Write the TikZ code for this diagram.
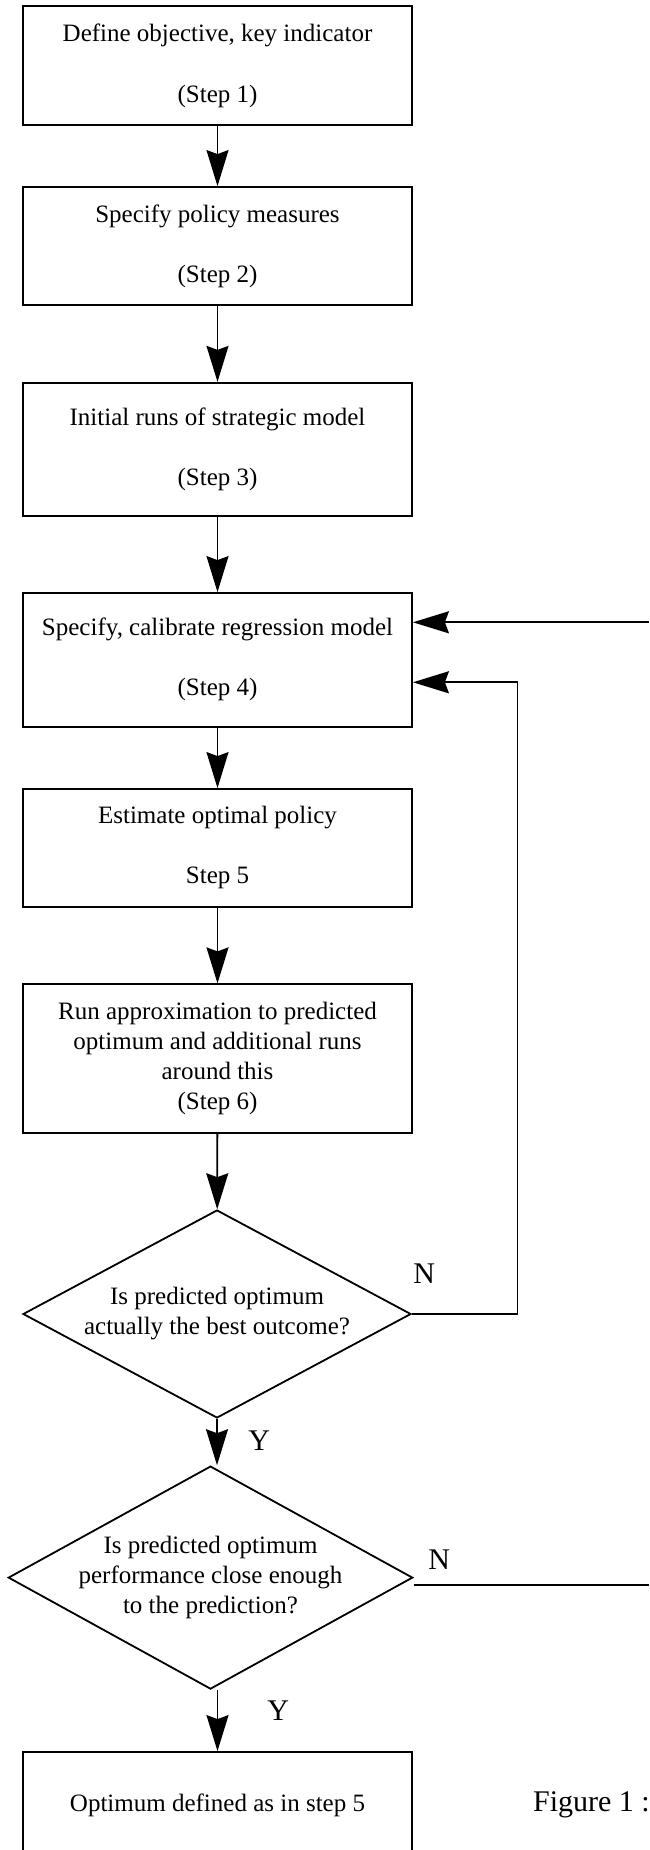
\documentclass[tikz,border=0pt]{standalone}
\usepackage{fontspec}
\setmainfont{Liberation Serif}
\usetikzlibrary{calc,arrows.meta,shapes.geometric,positioning}

\tikzset{%
  stepbox/.style={draw, line width=0.9pt, minimum width=194.5pt, inner sep=0pt, align=center, font=\fontsize{12.5}{15}\selectfont},%
  askbox/.style={draw, diamond, line width=0.9pt, inner sep=-4pt, align=center, font=\fontsize{12.5}{15}\selectfont},%
  flow/.style={line width=0.9pt, -{Stealth[length=18pt,width=11pt,inset=2pt]}},%
  yesno/.style={inner sep=0pt, anchor=base west, font=\fontsize{15}{18}\selectfont},%
}

\begin{document}
\begin{tikzpicture}[x=0.5pt, y=-0.5pt]
  \useasboundingbox (0,0) rectangle (649,1850);%
  \clip (0,0) rectangle (649,1850);%
  \def\midx{217.5}%

  % Coordinates
  \coordinate (S1) at (\midx,65.8);%
  \coordinate (S2) at (\midx,246.2);%
  \coordinate (S3) at (\midx,449.4);%
  \coordinate (S4) at (\midx,659.8);%
  \coordinate (S5) at (\midx,847.9);%
  \coordinate (S6) at (\midx,1058.7);%
  \coordinate (D1) at (217,1314);%
  \coordinate (D2) at (210.5,1577.6);%
  \coordinate (S7) at (\midx,1805.5);%
  \coordinate (L1) at (517.5,682.3);%
  \coordinate (R1) at (649,622.3);%
  \coordinate (R2) at (649,1585);%

  % Nodes
  \node[stepbox, minimum height=59.5pt] (s1) at (S1) {Define objective, key indicator\\[15.5pt](Step 1)};%
  \node[stepbox, minimum height=59.2pt] (s2) at (S2) {Specify policy measures\\[15pt](Step 2)};%
  \node[stepbox, minimum height=66.6pt] (s3) at (S3) {Initial runs of strategic model\\[15pt](Step 3)};%
  \node[stepbox, minimum height=66.8pt] (s4) at (S4) {Specify, calibrate regression model\\[15pt](Step 4)};%
  \node[stepbox, minimum height=58.9pt] (s5) at (S5) {Estimate optimal policy\\[15pt]Step 5};%
  \node[stepbox, minimum height=74.4pt] (s6) at (S6) {Run approximation to predicted\\optimum and additional runs\\around this\\(Step 6)};%
  \node[askbox, aspect=1.865, minimum width=194pt, minimum height=104pt] (d1) at (D1) {Is predicted optimum\\actually the best outcome?};%
  \node[askbox, aspect=1.81, minimum width=202.2pt, minimum height=111.5pt] (d2) at (D2) {Is predicted optimum\\performance close enough\\to the prediction?};%
  \node[stepbox, minimum height=53.5pt] (s7) at (S7) {Optimum defined as in step 5};%

  \node[yesno] (n1) at (413,1283) {N};%
  \node[yesno] (y1) at (248,1450) {Y};%
  \node[yesno] (n2) at (428,1569.5) {N};%
  \node[yesno] (y2) at (267,1720) {Y};%
  \node[yesno] (fig) at (532.7,1811) {Figure 1 :};%

  % Lines
  \draw[flow] (s1) -- (s2);%
  \draw[flow] (s2) -- (s3);%
  \draw[flow] (s3) -- (s4);%
  \draw[flow] (s4) -- (s5);%
  \draw[flow] (s5) -- (s6);%
  \draw[flow] (s6) -- (d1);%
  \draw[flow] (d1.south) -- (d1.south |- d2.north);%
  \draw[flow] (d2.south -| s7.north) -- (s7.north);%

  % Loops back to step 4
  \draw[flow] (d1.east) -| (L1) -- (L1 -| s4.east);%
  \draw[flow] (R1) -- (R1 -| s4.east);%
  \draw[line width=0.9pt] (R2 -| d2.east) -- (R2);%
\end{tikzpicture}
\end{document}
